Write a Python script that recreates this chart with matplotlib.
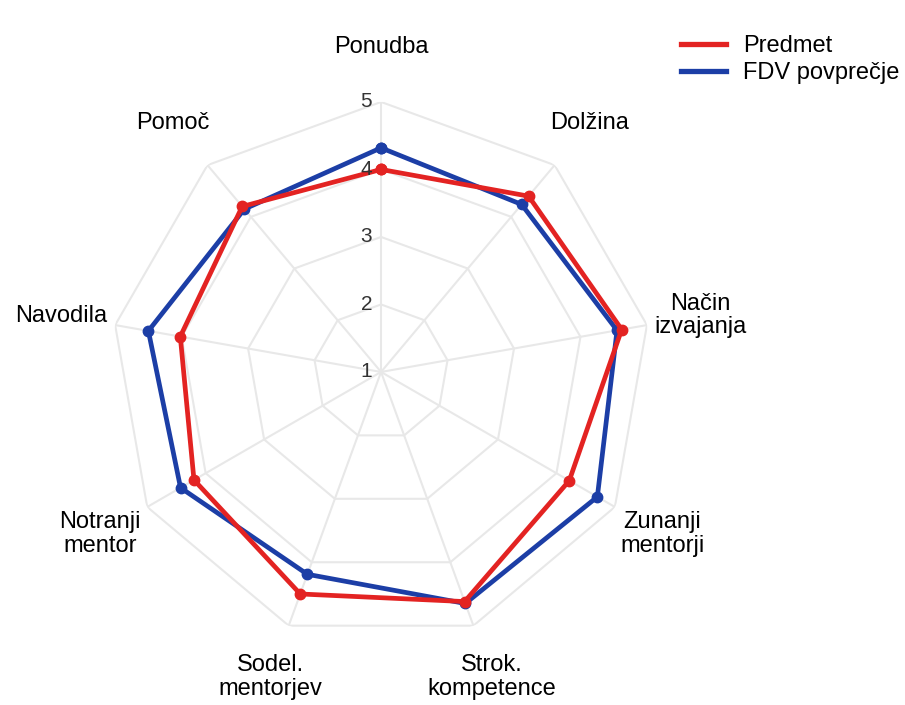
import numpy as np
import matplotlib.pyplot as plt
from matplotlib.lines import Line2D
from matplotlib.transforms import offset_copy

plt.rcParams['font.family'] = ['Liberation Sans', 'DejaVu Sans']

# podatki (odčitani s slike)
kategorije = ["Ponudba", "Dolžina", "Način\nizvajanja", "Zunanji\nmentorji",
              "Strok.\nkompetence", "Sodel.\nmentorjev", "Notranji\nmentor",
              "Navodila", "Pomoč"]
predmet = [4.0, 4.4, 4.62, 4.22, 4.62, 4.5, 4.2, 4.02, 4.2]
fdv = [4.32, 4.24, 4.55, 4.7, 4.65, 4.19, 4.43, 4.5, 4.15]
skala = [1, 2, 3, 4, 5]

RDECA = "#e32322"
MODRA = "#1c3ea6"
SIVA = "#e8e8e8"

n = len(kategorije)
koti = np.linspace(0, 2 * np.pi, n, endpoint=False)
koti_z = np.append(koti, koti[0])

fig = plt.figure(figsize=(9.05, 7.05), dpi=100)
ax = fig.add_axes([0.1227, 0.0894, 0.5967, 0.766], projection="polar")
ax.set_theta_offset(np.pi / 2)
ax.set_theta_direction(-1)
ax.set_ylim(1, 5)
ax.grid(False)
ax.spines["polar"].set_visible(False)
ax.set_xticks([])
ax.set_yticks([])

# mreža - mnogokotniki in žarki
for v in skala[1:]:
    ax.plot(koti_z, [v] * (n + 1), color=SIVA, lw=1.5, zorder=1)
for k in koti:
    ax.plot([k, k], [1, 5], color=SIVA, lw=1.5, zorder=1)

# serije
ax.plot(koti_z, fdv + fdv[:1], color=MODRA, lw=3.4, marker="o", ms=7.5, zorder=3)
ax.plot(koti_z, predmet + predmet[:1], color=RDECA, lw=3.4, marker="o", ms=7.5, zorder=4)

# oznake osi
for k, lab in zip(koti, kategorije):
    ax.text(k, 5.81, lab, ha="center", va="center", fontsize=17,
            linespacing=1.1, color="#000000", clip_on=False)

# oznake skale
odmik = offset_copy(ax.transData, fig=fig, x=-9, y=0, units="dots")
for v in skala:
    ax.text(0, v, str(v), transform=odmik, ha="right", va="center",
            fontsize=15, color="#333333", zorder=5)

fig.legend(handles=[Line2D([], [], color=RDECA, lw=3.8),
                    Line2D([], [], color=MODRA, lw=3.8)],
           labels=["Predmet", "FDV povprečje"],
           loc="upper left", bbox_to_anchor=(672 / 905, 1 - 26 / 705),
           frameon=False, fontsize=17, handlelength=1.9, handletextpad=0.7,
           labelspacing=0.2, borderaxespad=0)

fig.savefig("out.png", dpi=100)
